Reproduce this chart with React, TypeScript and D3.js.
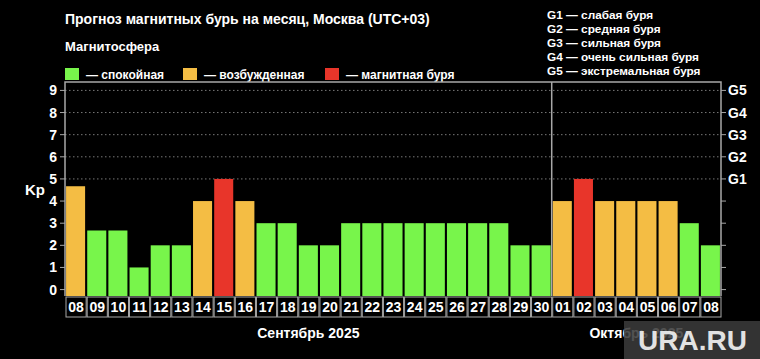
import React from "react";
import * as d3 from "d3";

const days = ["08","09","10","11","12","13","14","15","16","17","18","19","20","21","22","23","24","25","26","27","28","29","30","01","02","03","04","05","06","07","08"];
const months = ["Сентябрь 2025", "Sep", "Октябрь 2025"];
const kpValues = [4.67,2.67,2.67,1,2,2,4,5,4,3,3,2,2,3,3,3,3,3,3,3,3,2,2,4,5,4,4,4,4,3,2];
const levels = ["o","g","g","g","g","g","o","r","o","g","g","g","g","g","g","g","g","g","g","g","g","g","g","o","r","o","o","o","o","g","g"];
const kpTicks = [0,1,2,3,4,5,6,7,8,9];
const gTicks = ["G1","G2","G3","G4","G5"];
const gDescriptions = ["G1 — слабая буря","G2 — средняя буря","G3 — сильная буря","G4 — очень сильная буря","G5 — экстремальная буря"];
const legendItems = [
  { key: "g", label: "— спокойная" },
  { key: "o", label: "— возбужденная" },
  { key: "r", label: "— магнитная буря" },
];
const title = "Прогноз магнитных бурь на месяц, Москва (UTC+03)";
const legendTitle = "Магнитосфера";
const monthSplit = 23;

const colors: Record<string, string> = { g: "#78f54b", o: "#f4bd44", r: "#e8352a" };
const FONT = "'Liberation Sans', Arial, sans-serif";

export default function App() {
  const W = 760, H = 359;
  const left = 65, right = 721, top = 82, bottom = 296;
  const x = d3.scaleBand<number>().domain(d3.range(days.length)).range([left, right]).paddingInner(0.1).paddingOuter(0.05);
  const xs = d3.scaleBand<number>().domain(d3.range(days.length)).range([left, right]);
  const y = d3.scaleLinear().domain([-0.29, 9.38]).range([bottom, top]);
  const divX = xs(monthSplit)!;
  const sepCenter = (xs(0)! + xs(monthSplit - 1)! + xs.bandwidth()) / 2;
  const octCenter = (xs(monthSplit)! + xs(days.length - 1)! + xs.bandwidth()) / 2;
  const frame = "#a8a8a8";

  return (
    <svg width={W} height={H} style={{ position: "absolute", left: 0, top: 0, background: "#000" }} fontFamily={FONT}>
      <rect x={0} y={0} width={W} height={H} fill="#000" />
      <text x={65} y={24} fill="#fff" fontSize={14} fontWeight="bold">{title}</text>
      <text x={65} y={51} fill="#fff" fontSize={13} fontWeight="bold">{legendTitle}</text>
      {legendItems.map((it, i) => {
        const lx = [65, 183, 325][i];
        return (
          <g key={it.key}>
            <rect x={lx} y={68} width={14} height={12} fill={colors[it.key]} />
            <text x={lx + 21} y={79} fill="#fff" fontSize={12} fontWeight="bold">{it.label}</text>
          </g>
        );
      })}
      {gDescriptions.map((t, i) => (
        <text key={t} x={547} y={18.5 + i * 14} fill="#fff" fontSize={11.8} fontWeight="bold">{t}</text>
      ))}
      {kpTicks.filter(v => v >= 5).map(v => (
        <line key={v} x1={left} x2={right} y1={y(v)} y2={y(v)} stroke="#777" strokeWidth={1} strokeDasharray="1.5,2.5" />
      ))}
      {kpValues.map((v, i) => (
        <rect key={i} x={x(i)} y={y(v)} width={x.bandwidth()} height={y(-0.29) - y(v)} fill={colors[levels[i]]} />
      ))}
      <path d={`M${left},${bottom}V${top}H${right}V${bottom}`} fill="none" stroke={frame} strokeWidth={1.5} />
      <line x1={divX} x2={divX} y1={top} y2={bottom} stroke={frame} strokeWidth={1.5} />
      {kpTicks.map(v => (
        <g key={v}>
          <line x1={left - 5} x2={left} y1={y(v)} y2={y(v)} stroke={frame} strokeWidth={1} />
          <text x={left - 8} y={y(v)} dy="0.36em" textAnchor="end" fill="#fff" fontSize={14} fontWeight="bold">{v}</text>
        </g>
      ))}
      <text x={35} y={y(4.5)} dy="0.36em" textAnchor="middle" fill="#fff" fontSize={15} fontWeight="bold">Kp</text>
      {kpTicks.map(v => (
        <line key={v} x1={right} x2={right + 5} y1={y(v)} y2={y(v)} stroke={frame} strokeWidth={1} />
      ))}
      {gTicks.map((g, i) => (
        <text key={g} x={right + 7} y={y(5 + i)} dy="0.36em" fill="#fff" fontSize={14} fontWeight="bold">{g}</text>
      ))}
      {days.map((d, i) => (
        <g key={i}>
          <rect x={xs(i)! + 1} y={297} width={xs.bandwidth() - 1} height={20} fill="#000" stroke={frame} strokeWidth={1} />
          <text x={xs(i)! + xs.bandwidth() / 2 + 0.5} y={312} textAnchor="middle" fill="#fff" fontSize={14} fontWeight="bold">{d}</text>
        </g>
      ))}
      <text x={sepCenter} y={338} textAnchor="middle" fill="#fff" fontSize={14} fontWeight="bold">{months[0]}</text>
      <text x={octCenter} y={338} textAnchor="middle" fill="#fff" fontSize={14} fontWeight="bold">{months[2]}</text>
      <rect x={624} y={321} width={136} height={38} fill="#3a3a3a" opacity={0.88} />
      <text x={638} y={350} fill="#e2e2e2" fontSize={28} fontWeight="bold">URA.RU</text>
    </svg>
  );
}
